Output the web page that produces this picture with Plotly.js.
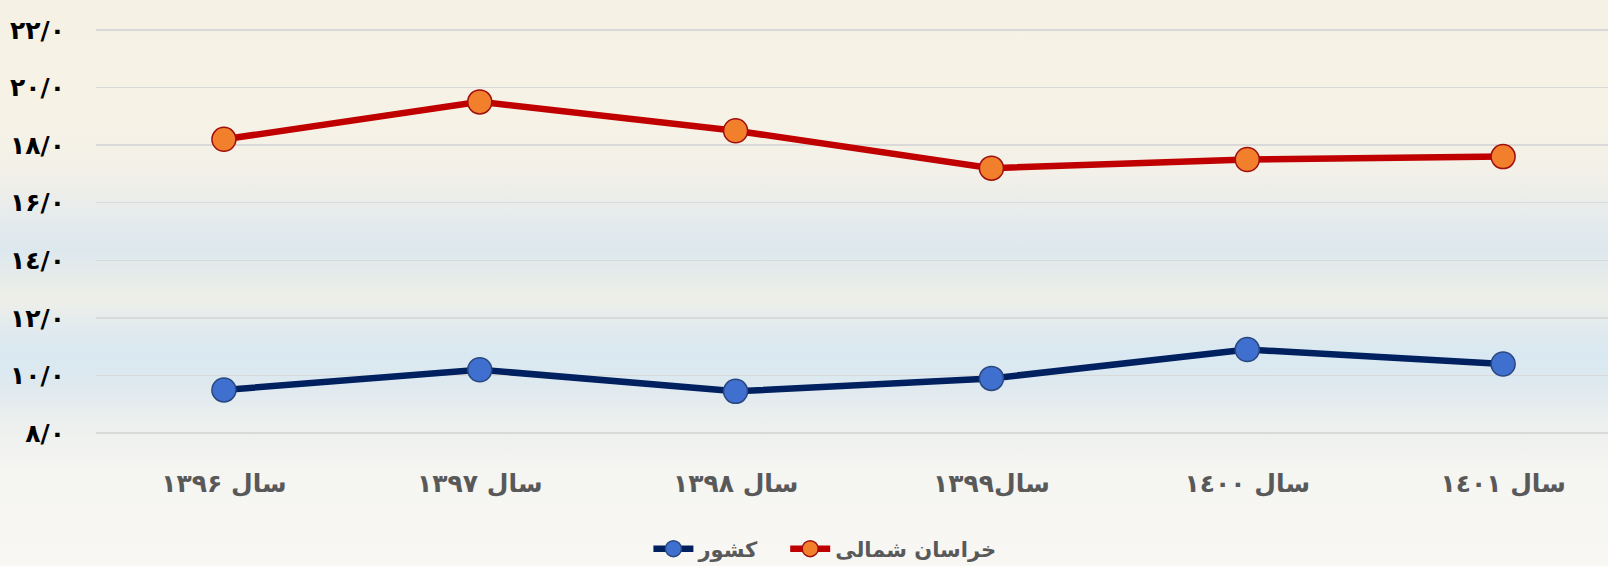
<!DOCTYPE html>
<html>
<head>
<meta charset="utf-8">
<script src="https://cdn.plot.ly/plotly-3.0.1.min.js"></script>
<style>
html, body { margin:0; padding:0; width:1608px; height:566px; overflow:hidden; }
body {
  background: linear-gradient(to bottom,
    #f5f1e5 0px, #f6f2e6 120px, #f2f0e8 175px, #e6ebec 215px, #dde8ee 250px,
    #e8ece9 282px, #efefe8 300px, #e0eaef 330px, #d9e8f1 355px, #dee9ef 385px,
    #ecefee 420px, #f5f5f2 470px, #f8f7f4 566px);
}
#chart { width:1608px; height:566px; }
</style>
</head>
<body>
<div id="chart"></div>
<script>
// Data
const years = ['سال ۱۳۹۶', 'سال ۱۳۹۷', 'سال ۱۳۹۸', 'سال۱۳۹۹', 'سال ۱٤۰۰', 'سال ۱٤۰۱'];
const khorasanShomali = [18.2, 19.5, 18.5, 17.2, 17.5, 17.6];
const keshvar = [9.5, 10.2, 9.45, 9.9, 10.9, 10.4];
const yTickVals = [8, 10, 12, 14, 16, 18, 20, 22];
const yTickText = ['۸/۰', '۱۰/۰', '۱۲/۰', '\u0661\u0664/\u0660', '۱۶/۰', '۱۸/۰', '۲۰/۰', '۲۲/۰'];
const seriesNames = ['کشور', 'خراسان شمالی'];

const FONT = 'DejaVu Sans';

const traces = [
  {
    x: years, y: keshvar, name: seriesNames[0] + '\u00a0\u00a0\u00a0',
    type: 'scatter', mode: 'lines+markers',
    line: { color: '#002060', width: 6.5 },
    marker: { size: 24, color: '#3f6fcf', line: { color: '#29487f', width: 1.5 } },
    hoverinfo: 'skip'
  },
  {
    x: years, y: khorasanShomali, name: seriesNames[1],
    type: 'scatter', mode: 'lines+markers',
    line: { color: '#c00000', width: 6.5 },
    marker: { size: 24, color: '#f27f2c', line: { color: '#a00e0e', width: 1.5 } },
    hoverinfo: 'skip'
  }
];

const layout = {
  width: 1608, height: 566,
  margin: { l: 96, r: 0, t: 27, b: 130, pad: 0 },
  paper_bgcolor: 'rgba(0,0,0,0)',
  plot_bgcolor: 'rgba(0,0,0,0)',
  showlegend: true,
  xaxis: {
    type: 'category',
    range: [-0.5, 5.41],
    showgrid: false, zeroline: false, showline: false,
    ticks: '',
    ticklabelstandoff: 30,
    tickfont: { family: FONT, size: 25, color: '#595959', weight: 'bold' },
    fixedrange: true
  },
  yaxis: {
    range: [7.9, 22.1],
    tickvals: yTickVals, ticktext: yTickText,
    showgrid: true, gridcolor: '#d9d9d9', gridwidth: 1.5,
    zeroline: false, showline: false, ticks: '',
    ticklabelstandoff: 30,
    tickfont: { family: FONT, size: 25, color: '#000000', weight: 'bold' },
    fixedrange: true
  },
  legend: {
    orientation: 'h',
    xref: 'container', yref: 'container',
    x: 0.513, xanchor: 'center',
    y: 0.03, yanchor: 'middle',
    font: { family: FONT, size: 21, color: '#595959', weight: 'bold' },
    bgcolor: 'rgba(0,0,0,0)',
    itemwidth: 40
  }
};

Plotly.newPlot('chart', traces, layout, { displayModeBar: false, staticPlot: true });
</script>
</body>
</html>
